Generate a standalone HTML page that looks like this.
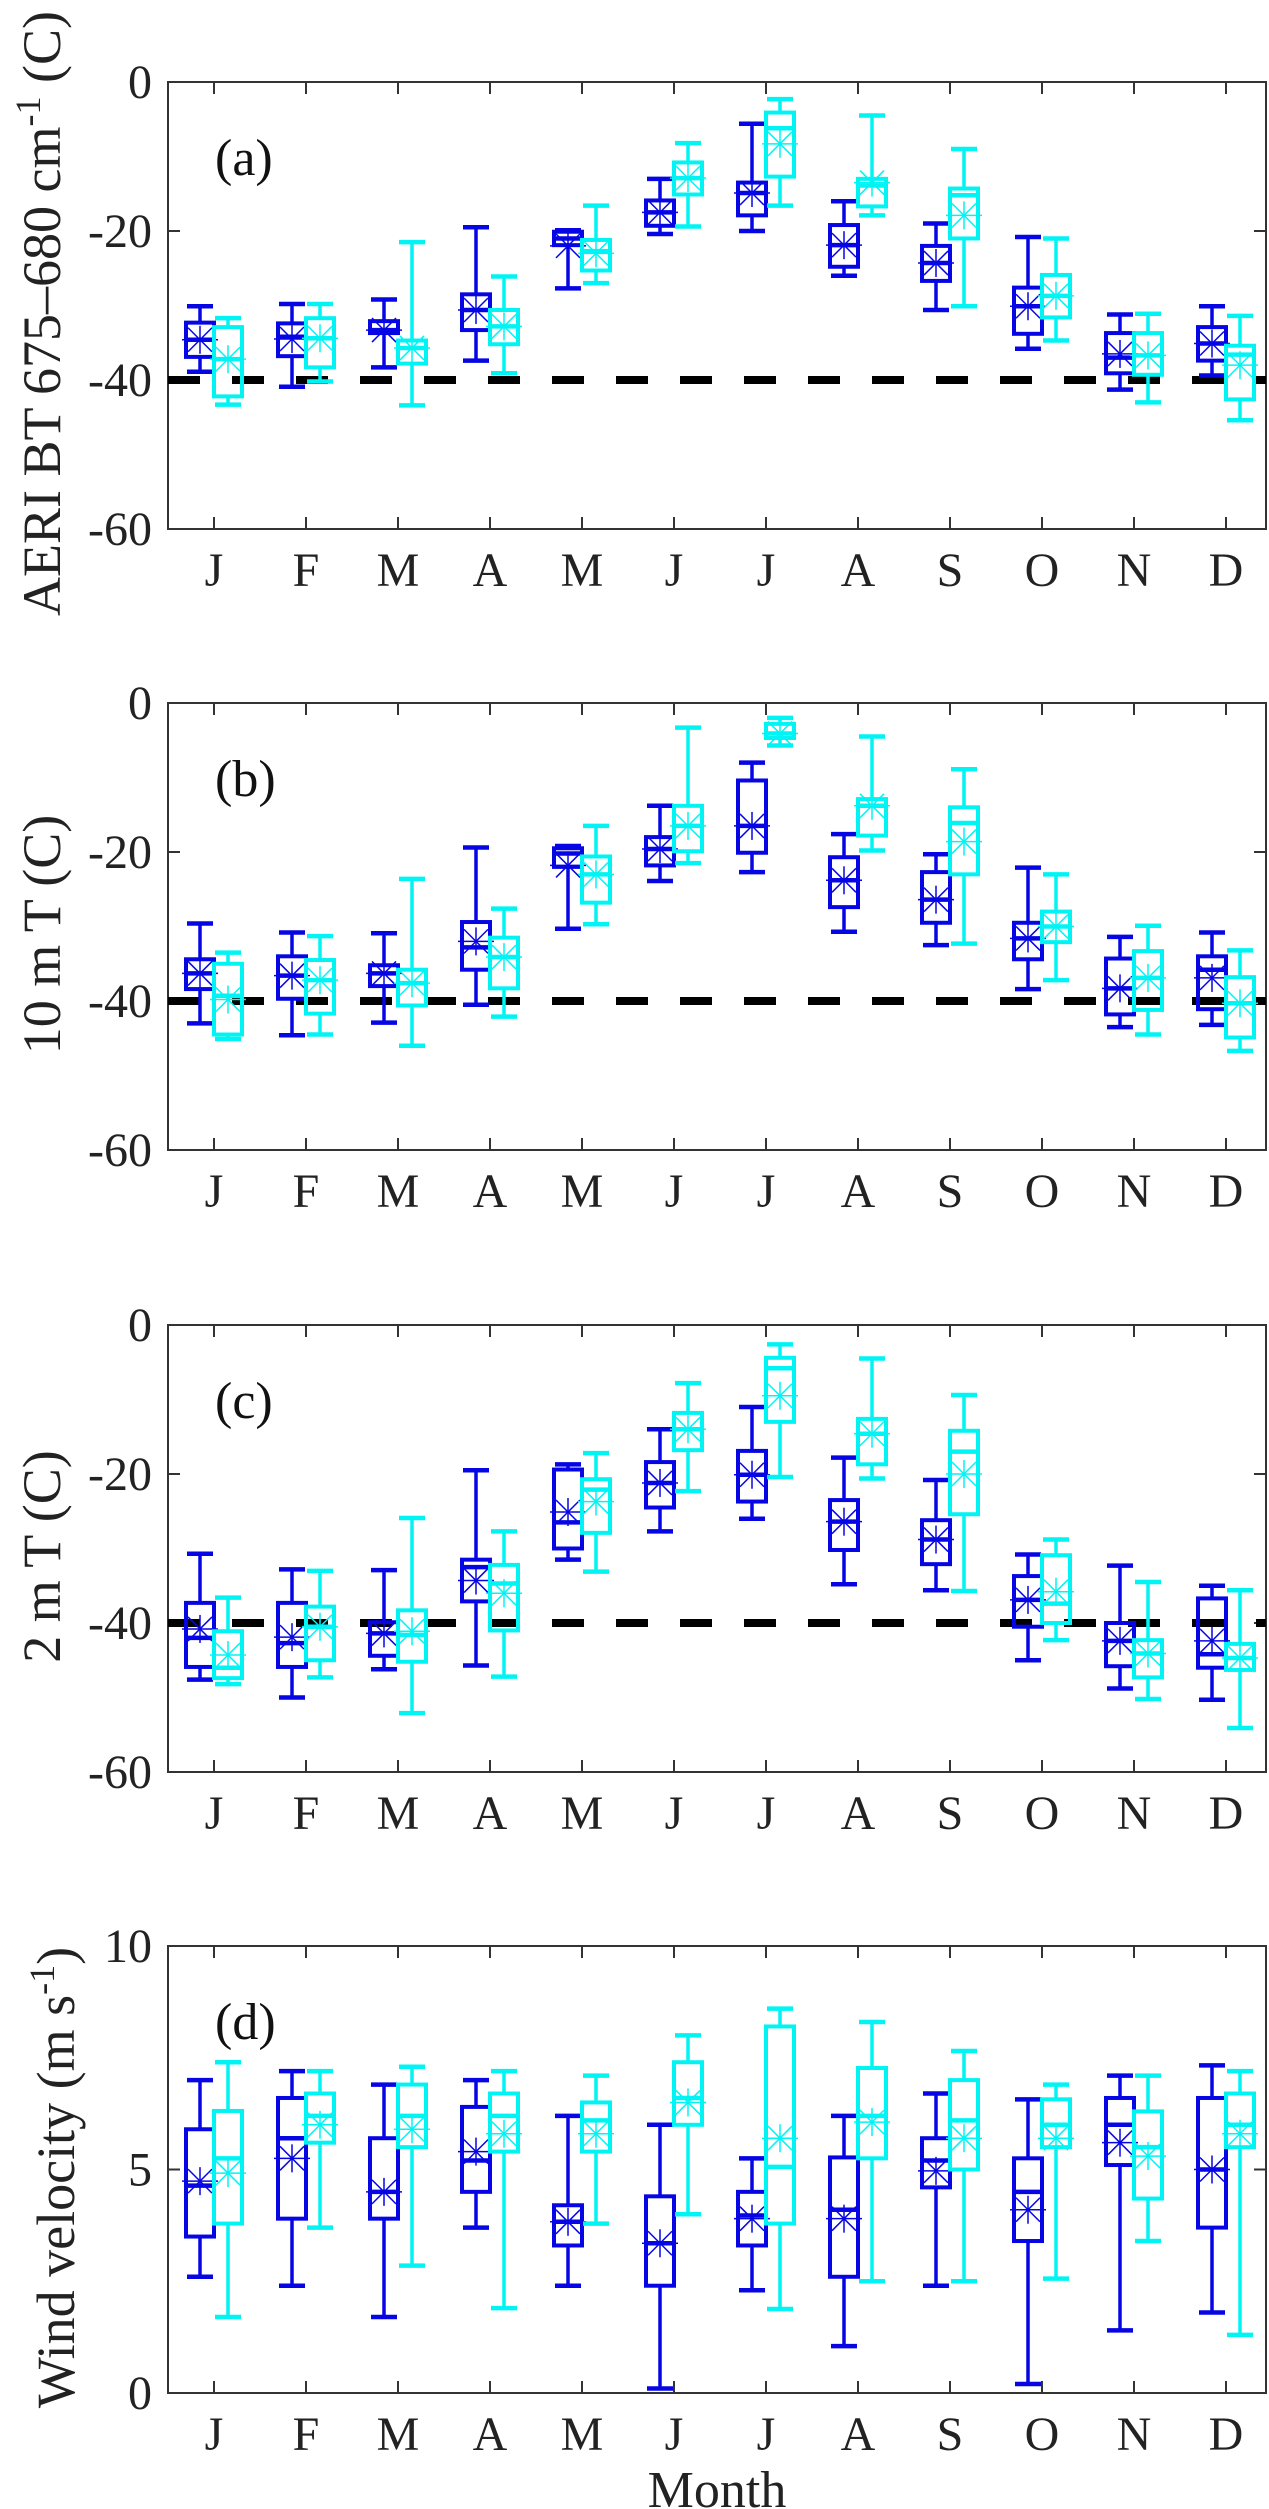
<!DOCTYPE html>
<html><head><meta charset="utf-8"><style>
html,body{margin:0;padding:0;background:#fff;}
svg{display:block;font-family:"Liberation Serif",serif;}
</style></head><body>
<svg id="chart" width="1269" height="2509" viewBox="0 0 1269 2509" xmlns="http://www.w3.org/2000/svg"></svg>
<script>
const months = ["J","F","M","A","M","J","J","A","S","O","N","D"];
// Panel (a) AERI BT
const aBlueLow  = [-38.9,-40.9,-38.3,-37.4,-27.7,-20.4,-20.0,-26.0,-30.6,-35.8,-41.3,-39.4];
const aBlueQ1   = [-36.9,-36.8,-33.7,-33.3,-21.9,-19.3,-17.9,-24.8,-26.7,-33.8,-39.1,-37.4];
const aBlueMed  = [-34.6,-34.2,-33.3,-30.6,-21.0,-17.5,-14.9,-21.9,-24.3,-30.1,-37.0,-35.1];
const aBlueQ3   = [-32.3,-32.4,-32.1,-28.5,-20.1,-15.9,-13.5,-19.2,-22.0,-27.6,-33.7,-32.9];
const aBlueHigh = [-30.1,-29.8,-29.2,-19.5,-19.9,-13.0,-5.6,-16.0,-19.0,-20.8,-31.2,-30.1];
const aBlueMean = [-34.6,-34.5,-33.3,-30.6,-22.0,-17.5,-14.9,-21.9,-24.3,-30.1,-36.5,-35.1];
const aCyanLow  = [-43.3,-40.2,-43.4,-39.1,-27.0,-19.4,-16.6,-17.9,-30.1,-34.7,-43.0,-45.4];
const aCyanQ1   = [-42.2,-38.3,-37.8,-35.2,-25.3,-15.1,-12.7,-16.7,-21.0,-31.6,-39.3,-42.6];
const aCyanMed  = [-37.2,-34.4,-35.7,-32.8,-22.7,-12.9,-6.2,-13.9,-15.2,-28.7,-36.7,-36.6];
const aCyanQ3   = [-32.9,-31.7,-34.7,-30.6,-21.2,-10.8,-4.1,-13.0,-14.3,-25.9,-33.7,-35.4];
const aCyanHigh = [-31.7,-29.8,-21.5,-26.1,-16.6,-8.2,-2.3,-4.5,-9.0,-21.0,-31.1,-31.4];
const aCyanMean = [-37.2,-34.4,-35.7,-32.8,-23.0,-12.9,-8.3,-13.5,-17.9,-28.7,-36.7,-38.0];
// Panel (b) 10 m T
const bBlueLow  = [-43.0,-44.6,-42.9,-40.5,-30.3,-23.9,-22.7,-30.7,-32.5,-38.4,-43.5,-43.2];
const bBlueQ1   = [-38.4,-39.7,-38.0,-35.8,-22.0,-21.8,-20.1,-27.4,-29.5,-34.4,-41.8,-41.1];
const bBlueMed  = [-36.3,-36.6,-36.3,-32.8,-20.2,-19.6,-16.5,-23.8,-26.4,-31.6,-38.3,-35.8];
const bBlueQ3   = [-34.4,-34.0,-35.2,-29.4,-19.5,-18.0,-10.4,-20.7,-22.7,-29.5,-34.3,-34.0];
const bBlueHigh = [-29.6,-30.8,-30.9,-19.4,-19.2,-13.8,-8.0,-17.6,-20.3,-22.1,-31.4,-30.8];
const bBlueMean = [-36.3,-36.6,-36.3,-32.0,-21.8,-19.6,-16.5,-23.8,-26.4,-31.6,-38.3,-36.9];
const bCyanLow  = [-45.1,-44.5,-46.0,-42.1,-29.7,-21.5,-5.7,-19.8,-32.3,-37.2,-44.5,-46.7];
const bCyanQ1   = [-44.5,-41.7,-40.6,-38.3,-26.8,-19.9,-4.7,-17.8,-23.0,-32.1,-41.2,-44.9];
const bCyanMed  = [-39.3,-37.2,-37.6,-34.1,-23.0,-16.5,-4.1,-13.8,-16.1,-30.0,-36.9,-40.3];
const bCyanQ3   = [-35.0,-34.5,-35.8,-31.5,-20.6,-13.8,-2.8,-12.9,-14.0,-28.0,-33.3,-36.8];
const bCyanHigh = [-33.5,-31.3,-23.6,-27.6,-16.5,-3.3,-2.0,-4.5,-8.9,-23.0,-29.9,-33.2];
const bCyanMean = [-39.8,-37.2,-37.6,-34.1,-23.0,-16.5,-4.1,-13.8,-18.6,-30.0,-36.9,-40.3];
// Panel (c) 2 m T
const cBlueLow  = [-47.6,-50.0,-46.2,-45.7,-31.5,-27.7,-26.0,-34.8,-35.6,-45.0,-48.8,-50.3];
const cBlueQ1   = [-45.9,-45.9,-44.4,-37.1,-30.0,-24.5,-23.7,-30.2,-32.1,-40.5,-45.8,-46.0];
const cBlueMed  = [-42.0,-42.7,-41.4,-32.5,-26.5,-21.2,-20.1,-26.4,-28.8,-36.9,-42.4,-44.2];
const cBlueQ3   = [-37.3,-37.3,-39.9,-31.5,-19.4,-18.4,-16.9,-23.5,-26.2,-33.7,-40.0,-36.7];
const cBlueHigh = [-30.7,-32.8,-32.9,-19.5,-18.7,-14.0,-11.0,-17.8,-20.8,-30.8,-32.3,-35.0];
const cBlueMean = [-40.8,-41.9,-41.4,-34.3,-25.1,-21.2,-20.1,-26.4,-28.8,-36.9,-42.4,-42.4];
const cCyanLow  = [-48.2,-47.3,-52.1,-47.2,-33.1,-22.3,-20.4,-20.6,-35.7,-42.3,-50.2,-54.1];
const cCyanQ1   = [-47.4,-45.0,-45.2,-41.0,-27.9,-16.8,-13.0,-18.7,-25.4,-40.0,-47.3,-46.3];
const cCyanMed  = [-46.0,-40.5,-41.6,-34.7,-22.1,-14.0,-5.8,-14.6,-17.0,-37.4,-44.1,-44.7];
const cCyanQ3   = [-41.1,-37.8,-38.3,-32.2,-20.7,-11.8,-4.4,-12.6,-14.2,-30.9,-42.3,-42.8];
const cCyanHigh = [-36.6,-33.0,-25.9,-27.7,-17.2,-7.8,-2.6,-4.5,-9.4,-28.8,-34.5,-35.6];
const cCyanMean = [-44.3,-40.5,-41.1,-36.0,-23.7,-14.0,-9.5,-14.6,-20.0,-35.8,-44.1,-44.7];
// Panel (d) wind velocity
const dBlueLow  = [2.6,2.4,1.7,3.7,2.4,0.1,2.3,1.05,2.4,0.2,1.4,1.8];
const dBlueQ1   = [3.5,3.9,3.9,4.5,3.3,2.4,3.3,2.6,4.6,3.4,5.1,3.7];
const dBlueMed  = [4.64,5.7,4.5,5.2,3.83,3.35,3.97,4.1,5.2,4.5,6.0,5.0];
const dBlueQ3   = [5.9,6.6,5.7,6.4,4.2,4.4,4.5,5.27,5.7,5.25,6.6,6.6];
const dBlueHigh = [7.0,7.2,6.9,7.0,6.2,6.0,5.25,6.2,6.7,6.57,7.1,7.33];
const dBlueMean = [4.74,5.25,4.5,5.4,3.83,3.35,3.9,3.9,4.97,4.1,5.6,5.0];
const dCyanLow  = [1.7,3.7,2.85,1.9,3.79,4.0,1.88,2.5,2.5,2.56,3.4,1.3];
const dCyanQ1   = [3.79,5.6,5.5,5.4,5.4,6.0,3.79,5.25,5.0,5.5,4.35,5.5];
const dCyanMed  = [5.25,6.2,6.2,6.2,6.1,6.6,5.06,6.2,6.1,6.0,5.5,6.0];
const dCyanQ3   = [6.31,6.7,6.9,6.7,6.5,7.4,8.2,7.27,7.0,6.57,6.3,6.7];
const dCyanHigh = [7.4,7.2,7.3,7.2,7.1,8.0,8.6,8.3,7.65,6.9,7.1,7.2];
const dCyanMean = [4.92,6.0,5.9,5.8,5.8,6.5,5.7,6.06,5.7,5.7,5.3,5.8];
const tempTicks = [0,-20,-40,-60];
const windTicks = [10,5,0];

const NS = "http://www.w3.org/2000/svg";
const svg = document.getElementById("chart");
const BLUE = "#0606e4", CYAN = "#00f4f4", AX = "#333";
const X0 = 168, X1 = 1266, STEP = 92, FIRST = 214, H = 447;

function el(tag, attrs, parent) {
  const e = document.createElementNS(NS, tag);
  for (const k in attrs) e.setAttribute(k, attrs[k]);
  (parent || svg).appendChild(e);
  return e;
}
function xPos(i) { return FIRST + STEP * i; }

function panel(key, letter, top, ymin, ymax, ticks, ylabelParts, ylabelX, ref, series, isLast) {
  const g = el("g", {});
  
  
  const y = v => top + (ymax - v) / (ymax - ymin) * H;
  const bottom = top + H;
  const fr = el("rect", {x: X0, y: top, width: X1 - X0, height: H, fill: "none", stroke: AX, "stroke-width": 2}, g);
  
  
  months.forEach((m, i) => {
    const x = xPos(i);
    el("line", {x1: x, x2: x, y1: top, y2: top + 12, stroke: AX, "stroke-width": 2}, g);
    el("line", {x1: x, x2: x, y1: bottom, y2: bottom - 12, stroke: AX, "stroke-width": 2}, g);
    const t = el("text", {x: x, y: bottom + 57, "text-anchor": "middle", "font-size": 48, fill: "#222"}, g);
    
    
    t.textContent = m;
  });
  ticks.forEach(v => {
    const yy = y(v);
    el("line", {x1: X0, x2: X0 + 12, y1: yy, y2: yy, stroke: AX, "stroke-width": 2}, g);
    el("line", {x1: X1, x2: X1 - 12, y1: yy, y2: yy, stroke: AX, "stroke-width": 2}, g);
    const t = el("text", {x: X0 - 16, y: yy + 16, "text-anchor": "end", "font-size": 48, fill: "#222"}, g);
    
    
    t.textContent = String(v);
  });
  if (ref !== null) {
    const rl = el("line", {x1: X0, x2: X1, y1: y(ref), y2: y(ref), stroke: "#000", "stroke-width": 8, "stroke-dasharray": "32 32"}, g);
    
    
  }
  series.forEach(s => {
    months.forEach((m, i) => {
      const cx = xPos(i) + s.off;
      const bg = el("g", {stroke: s.color, fill: "none"}, g);
      
      
      const lo = y(s.low[i]), q1 = y(s.q1[i]), md = y(s.med[i]), q3 = y(s.q3[i]), hi = y(s.high[i]), mn = y(s.mean[i]);
      el("line", {x1: cx, x2: cx, y1: hi, y2: q3, "stroke-width": 3.5}, bg);
      el("line", {x1: cx, x2: cx, y1: q1, y2: lo, "stroke-width": 3.5}, bg);
      el("line", {x1: cx - 13, x2: cx + 13, y1: hi, y2: hi, "stroke-width": 4.5}, bg);
      el("line", {x1: cx - 13, x2: cx + 13, y1: lo, y2: lo, "stroke-width": 4.5}, bg);
      el("rect", {x: cx - 14, y: q3, width: 28, height: Math.max(q1 - q3, 1), "stroke-width": 4}, bg);
      el("line", {x1: cx - 14, x2: cx + 14, y1: md, y2: md, "stroke-width": 4.5}, bg);
      el("line", {x1: cx - 18, x2: cx + 18, y1: mn, y2: mn, "stroke-width": 1.5}, bg);
      el("line", {x1: cx, x2: cx, y1: mn - 14, y2: mn + 14, "stroke-width": 1.5}, bg);
      el("line", {x1: cx - 12, x2: cx + 12, y1: mn - 12, y2: mn + 12, "stroke-width": 1.5}, bg);
      el("line", {x1: cx - 12, x2: cx + 12, y1: mn + 12, y2: mn - 12, "stroke-width": 1.5}, bg);
    });
  });
  const pl = el("text", {x: 215, y: top + 93, "font-size": 52, fill: "#111"}, g);
  
  
  pl.textContent = "(" + letter + ")";
  const cy = top + H / 2 + 8;
  const yl = el("text", {x: 0, y: 0, "text-anchor": "middle", "font-size": 54, fill: "#222", transform: "translate(" + ylabelX + "," + cy + ") rotate(-90)"}, g);
  
  
  ylabelParts.forEach(p => {
    const ts = el("tspan", p.sup ? {dy: -20, "font-size": 36} : (p.after ? {dy: 20} : {}), yl);
    ts.textContent = p.t;
  });
  if (isLast) {
    const xt = el("text", {x: (X0 + X1) / 2, y: bottom + 114, "text-anchor": "middle", "font-size": 52, fill: "#222"}, g);
    
    
    xt.textContent = "Month";
  }
}

function mk(name, color, off, low, q1, med, q3, high, mean) {
  return {name, color, off, low, q1, med, q3, high, mean};
}

panel("a", "a", 82, -60, 0, tempTicks,
  [{t: "AERI BT 675\u2013680 cm"}, {t: "-1", sup: true}, {t: " (C)", after: true}], 60, -40,
  [mk("blue", BLUE, -14, aBlueLow, aBlueQ1, aBlueMed, aBlueQ3, aBlueHigh, aBlueMean),
   mk("cyan", CYAN, 14, aCyanLow, aCyanQ1, aCyanMed, aCyanQ3, aCyanHigh, aCyanMean)], false);
panel("b", "b", 703, -60, 0, tempTicks,
  [{t: "10 m T (C)"}], 60, -40,
  [mk("blue", BLUE, -14, bBlueLow, bBlueQ1, bBlueMed, bBlueQ3, bBlueHigh, bBlueMean),
   mk("cyan", CYAN, 14, bCyanLow, bCyanQ1, bCyanMed, bCyanQ3, bCyanHigh, bCyanMean)], false);
panel("c", "c", 1325, -60, 0, tempTicks,
  [{t: "2 m T (C)"}], 60, -40,
  [mk("blue", BLUE, -14, cBlueLow, cBlueQ1, cBlueMed, cBlueQ3, cBlueHigh, cBlueMean),
   mk("cyan", CYAN, 14, cCyanLow, cCyanQ1, cCyanMed, cCyanQ3, cCyanHigh, cCyanMean)], false);
panel("d", "d", 1946, 0, 10, windTicks,
  [{t: "Wind velocity (m s"}, {t: "-1", sup: true}, {t: ")", after: true}], 74, null,
  [mk("blue", BLUE, -14, dBlueLow, dBlueQ1, dBlueMed, dBlueQ3, dBlueHigh, dBlueMean),
   mk("cyan", CYAN, 14, dCyanLow, dCyanQ1, dCyanMed, dCyanQ3, dCyanHigh, dCyanMean)], true);
</script>
</body></html>
